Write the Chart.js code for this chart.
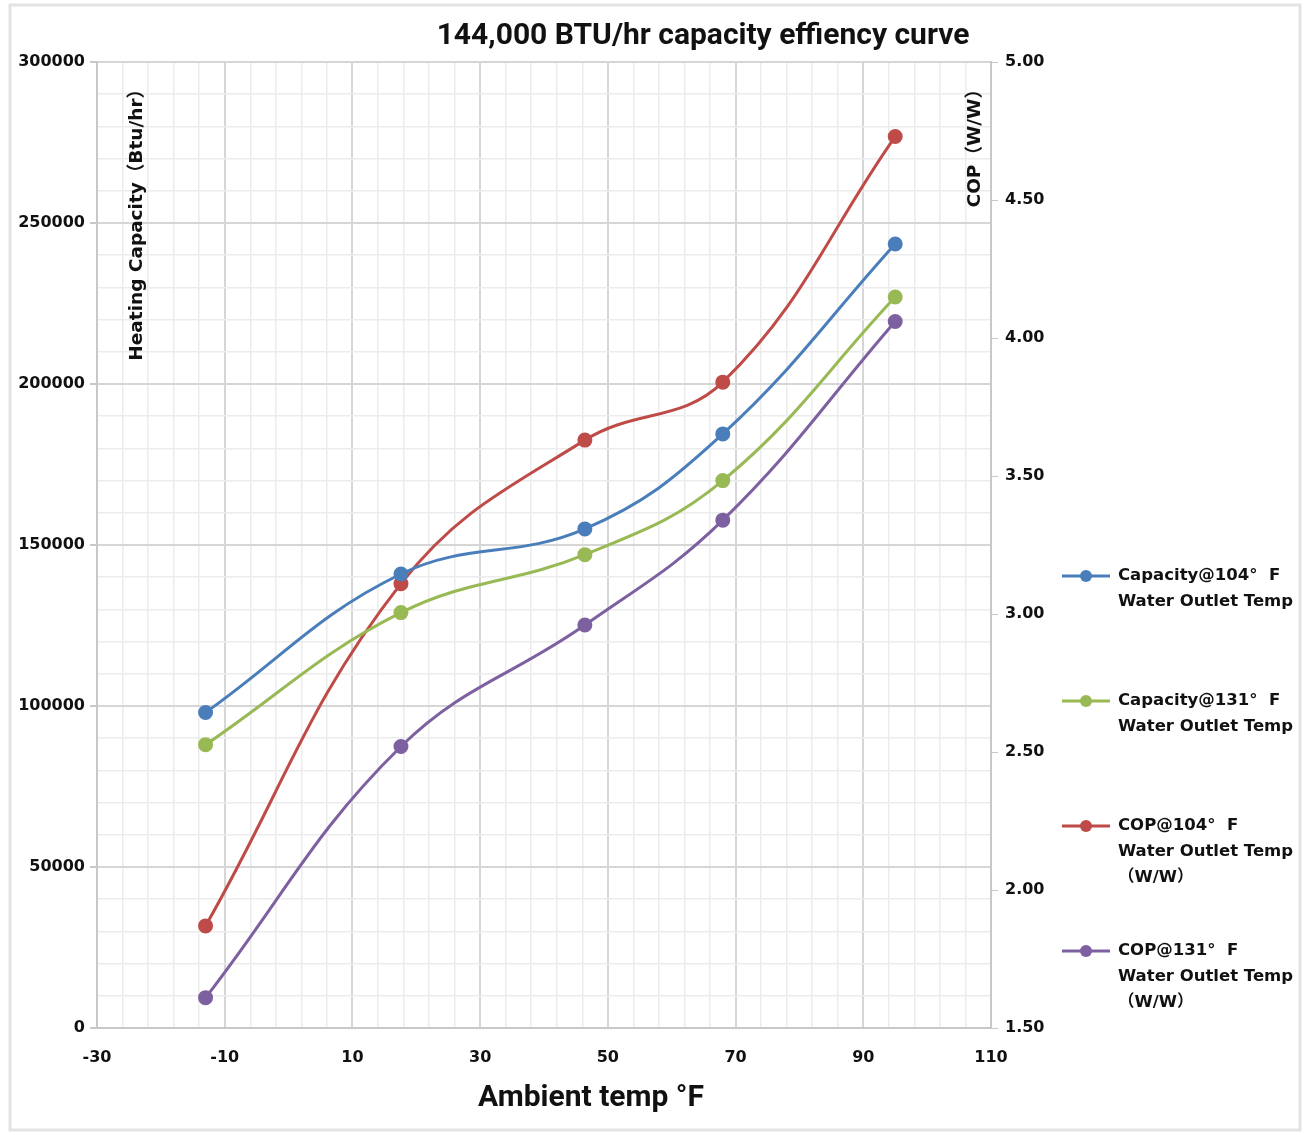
<!DOCTYPE html>
<html>
<head>
<meta charset="utf-8">
<script src="https://cdn.jsdelivr.net/npm/chart.js@4"></script>
<style>
  body { margin: 0; background: #fff; }
  canvas { display: block; }
</style>
</head>
<body>
<canvas id="myChart" width="1306" height="1135"></canvas>
<script>
// ambient temps (°F) and readings
const tempsF = [-13, 17.6, 46.4, 68, 95];
const cap104 = [98000, 141000, 155000, 184500, 243500];
const cap131 = [88000, 129000, 147000, 170000, 227000];
const cop104 = [1.87, 3.11, 3.63, 3.84, 4.73];
const cop131 = [1.61, 2.52, 2.96, 3.34, 4.06];

const legendLabels = [
  ["Capacity@104°  F", "Water Outlet Temp"],
  ["Capacity@131°  F", "Water Outlet Temp"],
  ["COP@104°  F", "Water Outlet Temp", "（W/W）"],
  ["COP@131°  F", "Water Outlet Temp", "（W/W）"],
];
const colors = ["#4a7ebb", "#98b954", "#be4b48", "#7d60a0"];

const tickFont = { family: "DejaVu Sans", weight: "bold", size: 16 };
const majorGrid = "#d6d6d6";
const minorGrid = "#ececec";

const pts = (ys) => tempsF.map((x, i) => ({ x: x, y: ys[i] }));

const makeSet = (label, ys, color, axis) => ({
  label: label,
  data: pts(ys),
  yAxisID: axis,
  borderColor: color,
  backgroundColor: color,
  borderWidth: 3,
  pointRadius: 6,
  pointHoverRadius: 6,
  tension: 0.4,
  fill: false,
});

const extras = {
  id: "extras",
  beforeDraw(chart) {
    const ctx = chart.ctx;
    ctx.save();
    ctx.fillStyle = "#fff";
    ctx.fillRect(0, 0, chart.width, chart.height);
    ctx.strokeStyle = "#e3e3e3";
    ctx.lineWidth = 3;
    ctx.strokeRect(10, 5, 1290, 1125);
    ctx.restore();
  },
  afterDraw(chart) {
    const ctx = chart.ctx;
    ctx.save();
    ctx.fillStyle = "#111";
    ctx.textAlign = "center";
    ctx.textBaseline = "middle";
    ctx.font = "bold 30px Roboto";
    ctx.fillText("144,000 BTU/hr capacity effiency curve", 703, 36);
    ctx.fillText("Ambient temp °F", 591, 1098);

    // axis titles sit inside the plot area
    ctx.font = "bold 18.5px 'DejaVu Sans', 'Noto Sans CJK SC'";
    ctx.textAlign = "right";
    ctx.save();
    ctx.translate(137, 80);
    ctx.rotate(-Math.PI / 2);
    ctx.fillText("Heating Capacity（Btu/hr）", 0, 0);
    ctx.restore();
    ctx.save();
    ctx.translate(975, 80);
    ctx.rotate(-Math.PI / 2);
    ctx.fillText("COP（W/W）", 0, 0);
    ctx.restore();

    // legend
    ctx.font = "bold 16.5px 'DejaVu Sans', 'Noto Sans CJK SC'";
    ctx.textAlign = "left";
    const tops = [576, 701, 826, 951];
    legendLabels.forEach((lines, i) => {
      const y = tops[i];
      ctx.strokeStyle = colors[i];
      ctx.lineWidth = 3;
      ctx.beginPath();
      ctx.moveTo(1062, y);
      ctx.lineTo(1110, y);
      ctx.stroke();
      ctx.fillStyle = colors[i];
      ctx.beginPath();
      ctx.arc(1086, y, 6, 0, Math.PI * 2);
      ctx.fill();
      ctx.fillStyle = "#111";
      lines.forEach((t, j) => ctx.fillText(t, 1118, y + j * 26));
    });
    ctx.restore();
  },
};

new Chart(document.getElementById("myChart"), {
  type: "line",
  data: {
    datasets: [
      makeSet("Capacity@104° F Water Outlet Temp", cap104, colors[0], "y"),
      makeSet("Capacity@131° F Water Outlet Temp", cap131, colors[1], "y"),
      makeSet("COP@104° F Water Outlet Temp (W/W)", cop104, colors[2], "y1"),
      makeSet("COP@131° F Water Outlet Temp (W/W)", cop131, colors[3], "y1"),
    ],
  },
  options: {
    responsive: false,
    animation: false,
    layout: { padding: { top: 62, left: 0, right: 255, bottom: 62 } },
    plugins: { legend: { display: false }, tooltip: { enabled: false } },
    scales: {
      x: {
        type: "linear",
        min: -30,
        max: 110,
        ticks: {
          stepSize: 4,
          autoSkip: false,
          maxRotation: 0,
          color: "#111",
          font: tickFont,
          padding: 12,
          callback: (v) => ((v + 30) % 20 === 0 ? v : ""),
        },
        grid: {
          color: (c) => ((c.tick.value + 30) % 20 === 0 ? majorGrid : minorGrid),
          lineWidth: (c) => ((c.tick.value + 30) % 20 === 0 ? 2 : 1.5),
          tickLength: 8,
          tickColor: "transparent",
        },
        border: { color: "#c8c8c8", width: 2 },
        afterFit: (s) => { s.height = 45; },
      },
      y: {
        position: "left",
        min: 0,
        max: 300000,
        ticks: {
          stepSize: 10000,
          autoSkip: false,
          color: "#111",
          font: tickFont,
          padding: 5,
          callback: (v) => (v % 50000 === 0 ? v : ""),
        },
        grid: {
          color: (c) => (c.tick.value % 50000 === 0 ? majorGrid : minorGrid),
          lineWidth: (c) => (c.tick.value % 50000 === 0 ? 2 : 1.5),
          tickLength: 7,
          tickColor: (c) => (c.tick.value % 50000 === 0 ? "#c8c8c8" : "transparent"),
        },
        border: { color: "#c8c8c8", width: 2 },
        afterFit: (s) => { s.width = 97; },
      },
      y1: {
        position: "right",
        min: 1.5,
        max: 5,
        ticks: {
          stepSize: 0.5,
          color: "#111",
          font: tickFont,
          padding: 7,
          callback: (v) => v.toFixed(2),
        },
        grid: { drawOnChartArea: false, tickLength: 7, tickColor: "#c8c8c8" },
        border: { color: "#c8c8c8", width: 2 },
        afterFit: (s) => { s.width = 60; },
      },
    },
  },
  plugins: [extras],
});
</script>
</body>
</html>
